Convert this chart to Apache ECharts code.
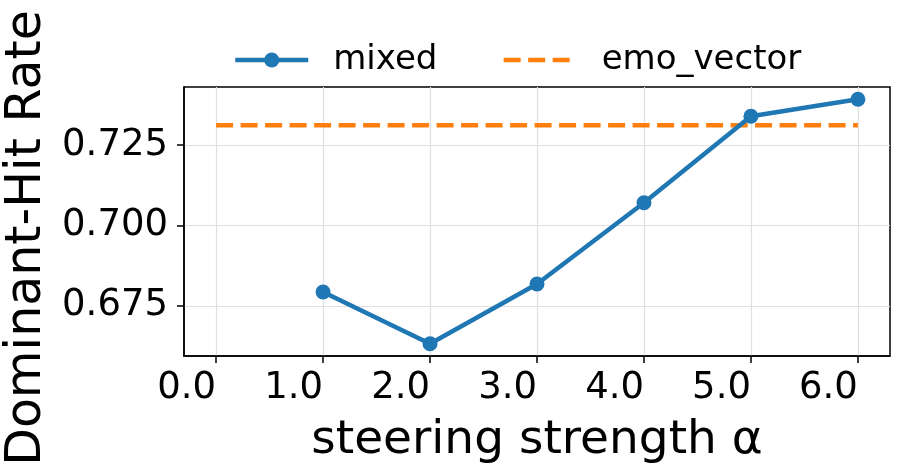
<!DOCTYPE html>
<html>
<head>
<meta charset="utf-8">
<script src="https://cdn.jsdelivr.net/npm/echarts@6/dist/echarts.min.js"></script>
<style>html,body{margin:0;padding:0;background:#fff}#c{width:897px;height:473px}</style>
</head>
<body>
<div id="c"></div>
<script>
const alphas = [1.0, 2.0, 3.0, 4.0, 5.0, 6.0];
const mixedValues = [0.6793, 0.6632, 0.6818, 0.7071, 0.7340, 0.7393];
const emoX = [0.0, 6.0];
const emoValue = 0.7312;
const xTicks = [0, 1, 2, 3, 4, 5, 6];
const yTicks = [0.675, 0.700, 0.725];

const FONT = 'DejaVu Sans';
const chart = echarts.init(document.getElementById('c'), null, {renderer: 'canvas'});
chart.setOption({
  backgroundColor: '#fff',
  animation: false,
  textStyle: {fontFamily: FONT},
  legend: {
    top: 38,
    left: 228,
    itemWidth: 73,
    itemHeight: 19,
    itemGap: 64,
    lineStyle: {width: 4.5},
    textStyle: {fontFamily: FONT, fontSize: 34, color: '#000', padding: [0, 0, 0, 20]},
    data: [
      {name: 'mixed'},
      {name: 'emo_vector', itemStyle: {opacity: 0}}
    ]
  },
  grid: {left: 184, right: 7, top: 87, bottom: 117, show: true, borderColor: '#000', borderWidth: 1.5, backgroundColor: 'transparent'},
  xAxis: {
    type: 'value', min: -0.3, max: 6.3,
    name: 'steering strength α', nameLocation: 'middle', nameGap: 61,
    nameTextStyle: {fontFamily: FONT, fontSize: 47, color: '#000'},
    axisLine: {show: true, onZero: false, lineStyle: {color: '#000', width: 1.5}},
    axisTick: {show: true, length: 7, inside: false, customValues: xTicks, lineStyle: {color: '#000', width: 1.5}},
    axisLabel: {customValues: xTicks, margin: 14, align: 'right', fontFamily: FONT, fontSize: 37, color: '#000', formatter: v => v.toFixed(1)},
    splitLine: {show: true, lineStyle: {color: '#e0e0e0', width: 1.2}}
  },
  yAxis: {
    type: 'value', min: 0.6594, max: 0.7431,
    axisLine: {show: true, onZero: false, lineStyle: {color: '#000', width: 1.5}},
    axisTick: {show: true, length: 7, inside: false, customValues: yTicks, lineStyle: {color: '#000', width: 1.5}},
    axisLabel: {customValues: yTicks, margin: 16, fontFamily: FONT, fontSize: 37, color: '#000', formatter: v => v.toFixed(3)},
    splitLine: {show: true, lineStyle: {color: '#e0e0e0', width: 1.2}}
  },
  graphic: [{
    type: 'text', x: 27, y: 238, rotation: Math.PI / 2,
    style: {text: 'Dominant-Hit Rate', fontFamily: FONT, fontSize: 49, fill: '#000', align: 'center', verticalAlign: 'middle'}
  }],
  series: [
    {
      name: 'mixed', type: 'line',
      data: alphas.map((a, i) => [a, mixedValues[i]]),
      symbol: 'circle', symbolSize: 15,
      itemStyle: {color: '#1f77b4'},
      lineStyle: {color: '#1f77b4', width: 4.5},
      z: 3
    },
    {
      name: 'emo_vector', type: 'line',
      data: emoX.map(x => [x, emoValue]),
      symbol: 'none',
      itemStyle: {color: '#ff7f0e'},
      lineStyle: {color: '#ff7f0e', width: 4.5, type: [17, 7.5]},
      z: 2
    }
  ]
});
</script>
</body>
</html>
